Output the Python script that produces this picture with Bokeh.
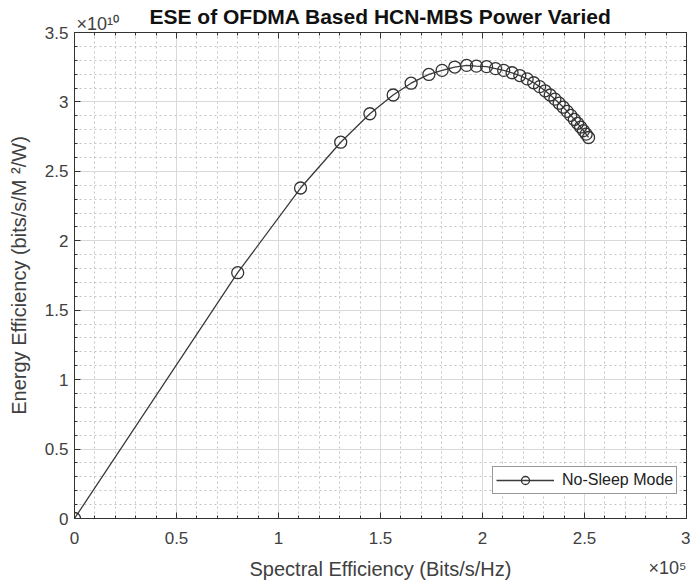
from bokeh.plotting import figure
from bokeh.models import (ColumnDataSource, FixedTicker, Legend, LegendItem, Title,
                          LinearAxis, Range1d)
from bokeh.embed import file_html
from bokeh.resources import INLINE

# ---- data (x in units of 1e5 Bits/s/Hz, y in units of 1e10 bits/s/M^2/W) ----
spectral_eff = [0.0, 0.80, 1.108, 1.305, 1.448, 1.562, 1.650, 1.737, 1.802, 1.864,
                1.922, 1.970, 2.020, 2.064, 2.104, 2.145, 2.183, 2.219, 2.251, 2.280,
                2.307, 2.332, 2.355, 2.376, 2.396, 2.415, 2.433, 2.450, 2.466, 2.481,
                2.495, 2.508, 2.520]
energy_eff = [0.0, 1.77, 2.38, 2.71, 2.915, 3.05, 3.135, 3.198, 3.227, 3.251,
              3.263, 3.258, 3.254, 3.24, 3.227, 3.21, 3.19, 3.166, 3.138, 3.110,
              3.080, 3.050, 3.020, 2.991, 2.962, 2.932, 2.903, 2.874, 2.846, 2.819,
              2.793, 2.768, 2.744]
series_name = "No-Sleep Mode"

x_ticks = [0, 0.5, 1, 1.5, 2, 2.5, 3]
x_tick_labels = ["0", "0.5", "1", "1.5", "2", "2.5", "3"]
y_ticks = [0, 0.5, 1, 1.5, 2, 2.5, 3, 3.5]
y_tick_labels = ["0", "0.5", "1", "1.5", "2", "2.5", "3", "3.5"]
x_minor = [i / 10 for i in range(0, 31)]
y_minor = [i / 10 for i in range(0, 36)]

title_text = "ESE of OFDMA Based HCN-MBS Power Varied"
x_label = "Spectral Efficiency (Bits/s/Hz)"
y_label = "Energy Efficiency (bits/s/M \u00b2/W)"
x_multiplier = "\u00d710\u2075"
y_multiplier = "\u00d710\u00b9\u2070"

FONT = "Liberation Sans"
TXT = "#404040"
AX = "#333333"

W, H = 690, 584
ML, MR, MT, MB = 74, 4, 32, 66

src = ColumnDataSource(dict(x=spectral_eff, y=energy_eff))

p = figure(width=W, height=H, output_backend="svg", toolbar_location=None,
           x_range=Range1d(0, 3), y_range=Range1d(0, 3.5),
           min_border_left=ML, min_border_right=MR, min_border_top=MT, min_border_bottom=MB,
           background_fill_color="white", border_fill_color="white")

p.outline_line_color = AX
p.outline_line_width = 1

for ax, ticks, labels, minor in ((p.xaxis[0], x_ticks, x_tick_labels, x_minor),
                                 (p.yaxis[0], y_ticks, y_tick_labels, y_minor)):
    ax.ticker = FixedTicker(ticks=ticks, minor_ticks=minor)
    ax.major_label_overrides = {t: l for t, l in zip(ticks, labels)}
    ax.major_tick_in = 6
    ax.major_tick_out = 0
    ax.minor_tick_in = 3
    ax.minor_tick_out = 0
    ax.axis_line_color = AX
    ax.major_tick_line_color = AX
    ax.minor_tick_line_color = AX
    ax.major_label_text_font = FONT
    ax.major_label_text_font_size = "17px"
    ax.major_label_text_color = TXT
    ax.axis_label_text_font = FONT
    ax.axis_label_text_font_size = "20px"
    ax.axis_label_text_font_style = "normal"
    ax.axis_label_text_color = TXT

p.xaxis.axis_label = x_label
p.yaxis.axis_label = y_label
p.xaxis.major_label_standoff = 13
p.xaxis.axis_label_standoff = 11
p.yaxis.major_label_standoff = 6
p.yaxis.axis_label_standoff = 12

# top and right tick axes (box), without labels
for loc, ticks, minor in (("above", x_ticks, x_minor), ("right", y_ticks, y_minor)):
    a = LinearAxis(ticker=FixedTicker(ticks=ticks, minor_ticks=minor),
                   major_label_overrides={t: "" for t in ticks},
                   major_tick_in=6, major_tick_out=0,
                   minor_tick_in=3, minor_tick_out=0, axis_line_color=AX,
                   major_tick_line_color=AX, minor_tick_line_color=AX,
                   major_label_standoff=0)
    p.add_layout(a, loc)

for g in (p.xgrid[0], p.ygrid[0]):
    g.grid_line_color = "#d9d9d9"
    g.grid_line_width = 1
    g.minor_grid_line_color = "#c4c4c4"
    g.minor_grid_line_dash = "2 3"
    g.minor_grid_line_width = 1
p.xgrid[0].ticker = FixedTicker(ticks=x_ticks, minor_ticks=x_minor)
p.ygrid[0].ticker = FixedTicker(ticks=y_ticks, minor_ticks=y_minor)

line_r = p.line("x", "y", source=src, line_color="#3a3a3a", line_width=1.3)
pts_r = p.scatter("x", "y", source=src, marker="circle", size=12, fill_color=None,
                  line_color="#333333", line_width=1.3)

legend = Legend(items=[LegendItem(label=series_name, renderers=[line_r, pts_r])],
                location=(418, 24), orientation="vertical",
                label_text_font=FONT, label_text_font_size="16px", label_text_color="#222222",
                glyph_width=58, glyph_height=20, label_standoff=8, padding=3,
                margin=0, spacing=0, border_line_color="#333333", border_line_width=1,
                background_fill_color="white", background_fill_alpha=1.0)
p.add_layout(legend)

# title
p.title.text = title_text
p.title.align = "center"
p.title.text_font = FONT
p.title.text_font_style = "bold"
p.title.text_font_size = "21px"
p.title.text_color = "#111111"
p.title.offset = 0
p.title.standoff = -30

# exponent multipliers as extra titles
p.add_layout(Title(text=y_multiplier, align="left", offset=2, standoff=-2,
                   text_font=FONT, text_font_style="normal", text_font_size="18px",
                   text_color=TXT), "above")
p.add_layout(Title(text=x_multiplier, align="right", vertical_align="top", offset=0,
                   standoff=-50, text_font=FONT, text_font_style="normal",
                   text_font_size="18px", text_color=TXT), "below")

open("out.html", "w").write(file_html(p, INLINE))
